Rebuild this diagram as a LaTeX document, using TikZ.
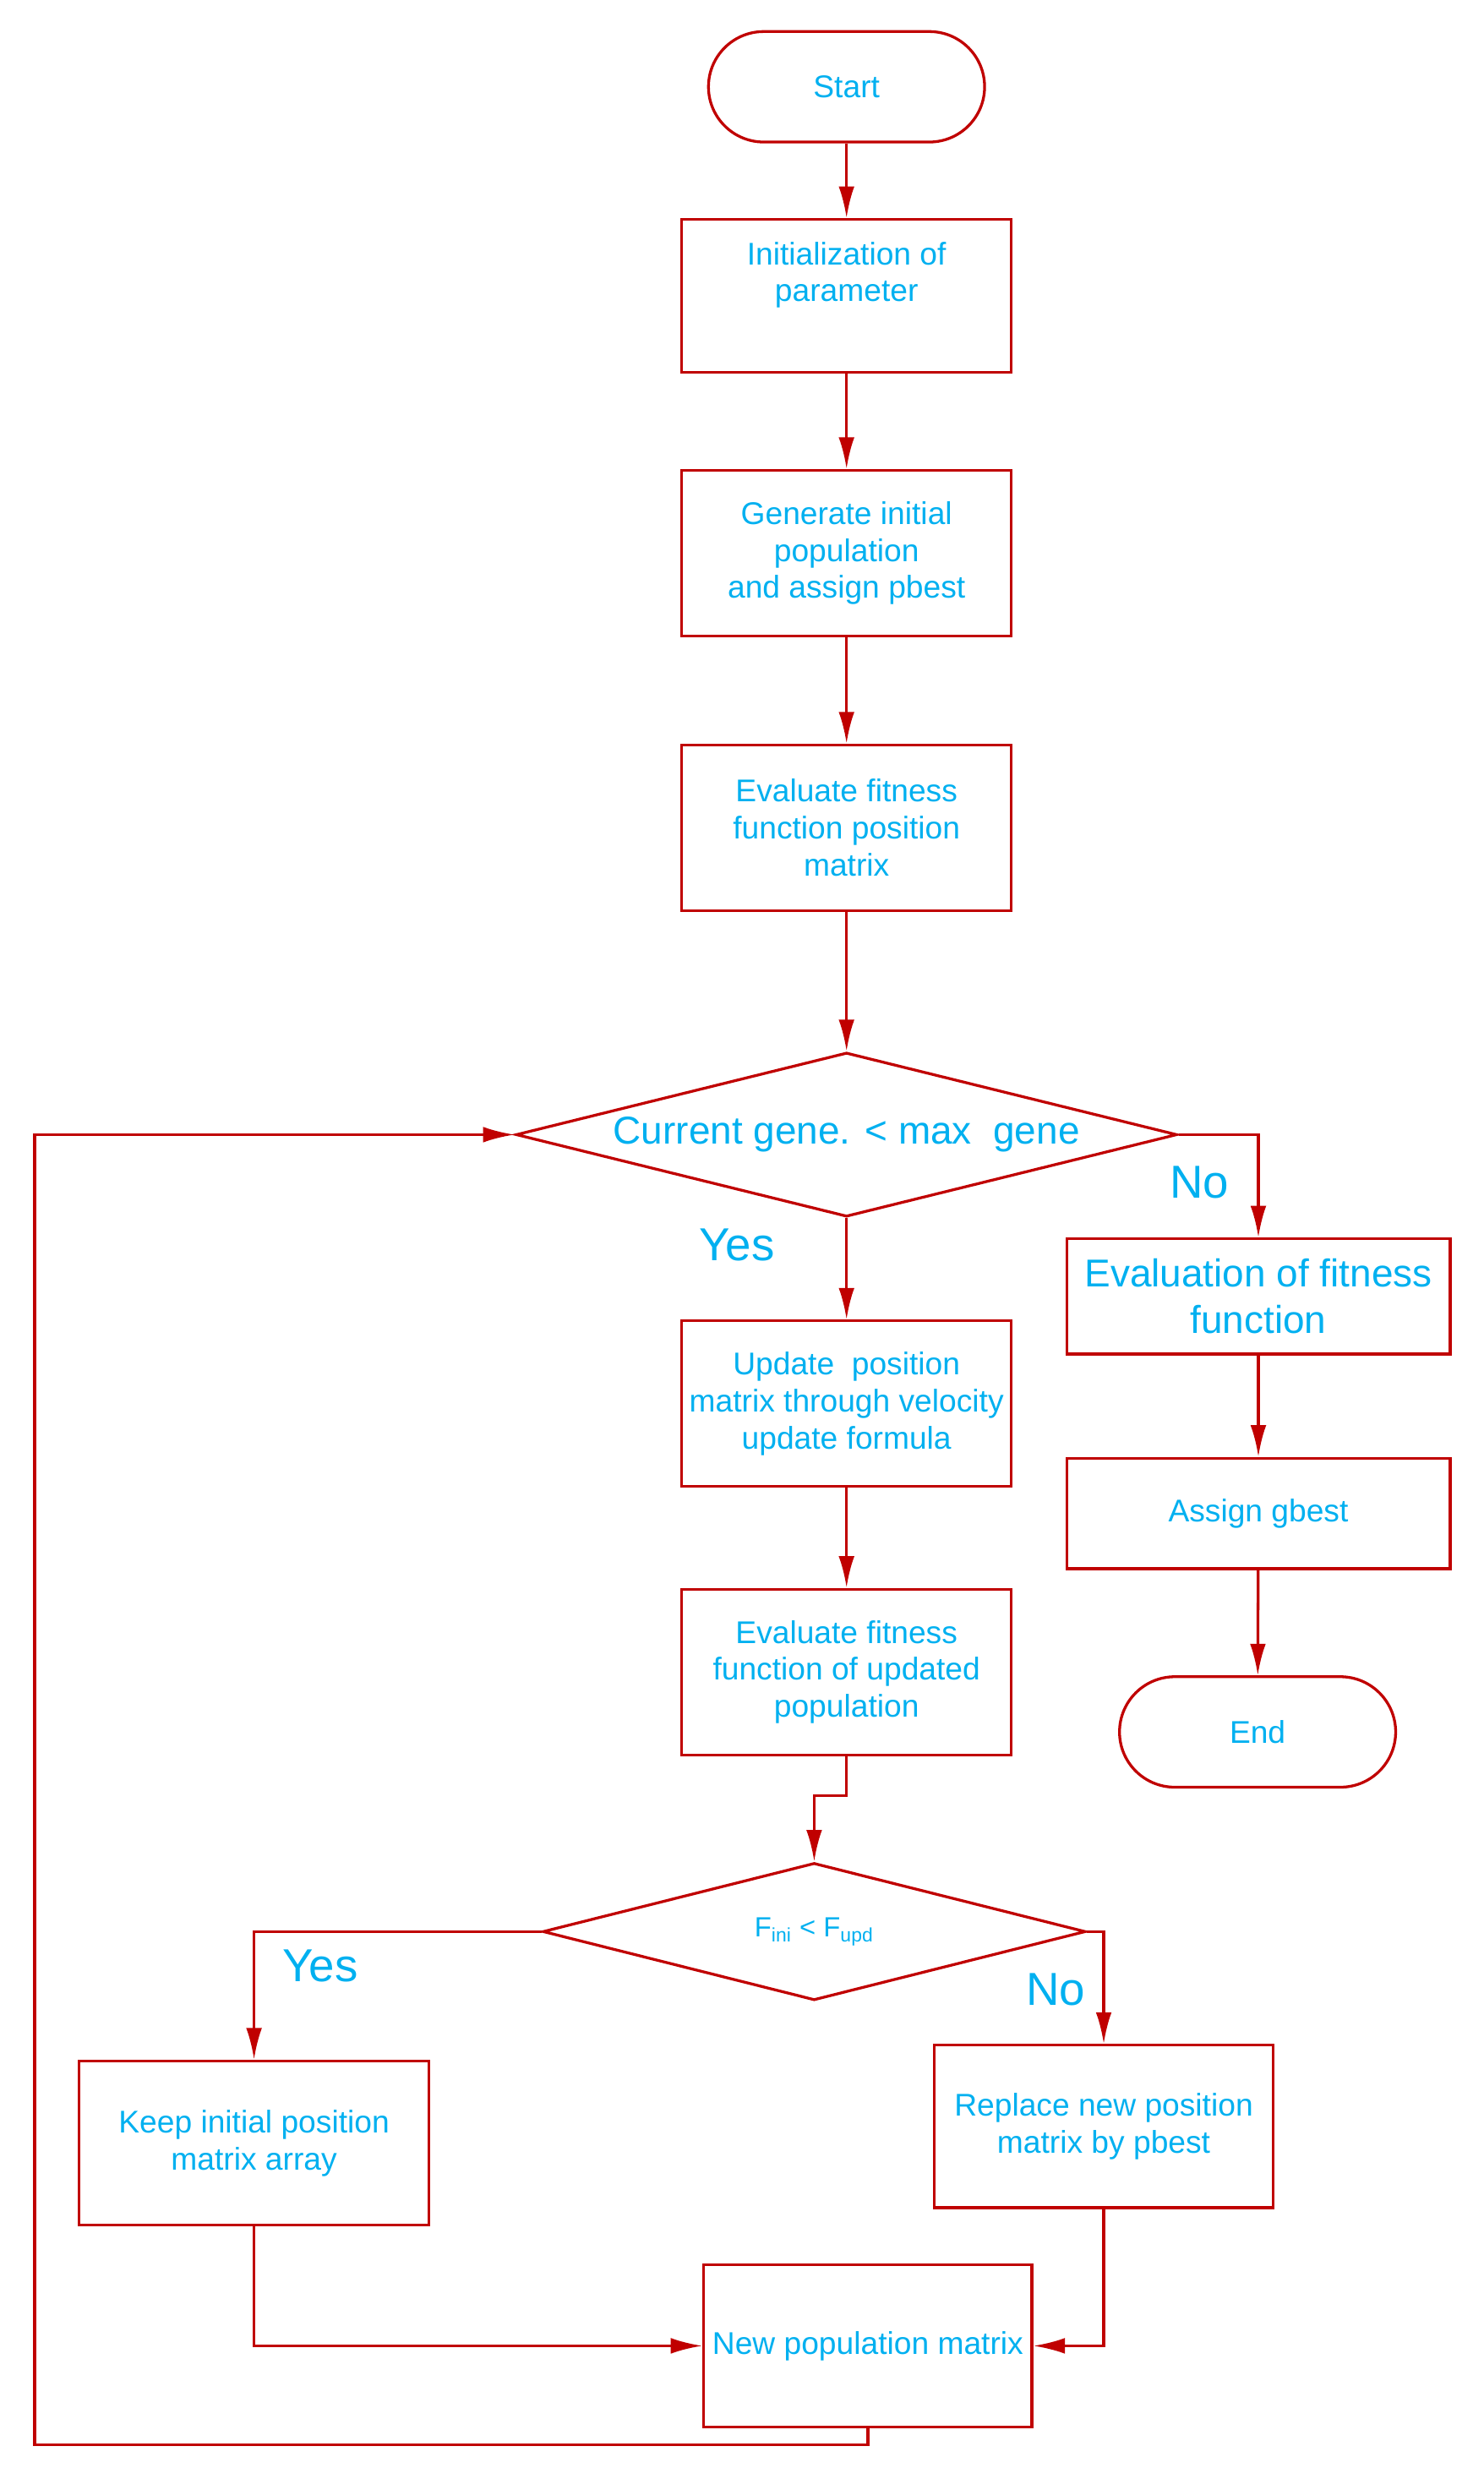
\documentclass[tikz,border=0pt]{standalone}
\usepackage{fontspec}
\setmainfont{Liberation Sans}
\usetikzlibrary{shapes.geometric,arrows.meta}

\definecolor{fred}{HTML}{C00000}
\definecolor{fcyan}{HTML}{00B0F0}

\tikzstyle{block}=[draw=fred, line width=1.5pt, text=fcyan, align=center, inner sep=0pt, font=\fontsize{17}{20}\selectfont]
\tikzstyle{box}=[block, rectangle, minimum width=62.7mm, minimum height=31.5mm]
\tikzstyle{term}=[block, rectangle, rounded corners=10.5mm, minimum width=52.5mm, minimum height=21mm]
\tikzstyle{decide}=[block, diamond]
\tikzstyle{big}=[text=fcyan, align=center, font=\fontsize{21}{25}\selectfont]
\tikzstyle{yn}=[text=fcyan, font=\fontsize{25}{30}\selectfont]
\tikzstyle{arr}=[draw=fred, line width=1.5pt, -{Latex[length=6mm,width=3mm]}]

\begin{document}
\begin{tikzpicture}[x=0.3mm, y=-0.3mm]
    \useasboundingbox (0,0) rectangle (940,1570.9);

    % main column
    \node[term] (start) at (536.5, 55) {Start};
    \node[box, minimum height=29.1mm] (init) at (536.5, 187.5) {Initialization of\\parameter\\\strut};
    \node[box] (gen)   at (536.5, 350.5) {Generate initial\\population\\and assign pbest};
    \node[box] (eval)  at (536.5, 524.5) {Evaluate fitness\\function position\\matrix};
    \node[decide, minimum width=125.7mm, minimum height=31.2mm,
          label={[big]center:Current gene. < max\ \ gene}] (cond) at (536.5, 719) {};
    \node[box] (upd)   at (536.5, 889.5) {Update\ \ position\\matrix through velocity\\update formula};
    \node[box] (evalu) at (536.5, 1059.5) {Evaluate fitness\\function of updated\\population};
    \node[decide, minimum width=103.2mm, minimum height=26.1mm,
          label={[text=fcyan, font=\fontsize{15}{18}\selectfont]center:F\textsubscript{ini} < F\textsubscript{upd}}] (cmp) at (516, 1224) {};

    % right column
    \node[box, minimum width=72.9mm, minimum height=21.9mm, font=\fontsize{21}{25}\selectfont] (evfit) at (797.5, 821.5) {Evaluation of fitness\\function};
    \node[box, minimum width=72.9mm, minimum height=21mm] (gbest) at (797.5, 959) {Assign gbest};
    \node[term] (stop) at (797, 1097.5) {End};

    % bottom
    \node[box, minimum width=66.6mm, minimum height=31.2mm] (keep) at (161, 1358) {Keep initial position\\matrix array};
    \node[box, minimum width=64.5mm, minimum height=30.9mm] (repl) at (699.5, 1347.5) {Replace new position\\matrix by pbest};
    \node[box, minimum width=62.4mm, minimum height=30.9mm] (newpop) at (550, 1486.5) {New population matrix};

    % labels
    \node[yn] (yes1) at (467, 789) {Yes};
    \node[yn] (no1)  at (760, 749) {No};
    \node[yn] (yes2) at (203, 1246) {Yes};
    \node[yn] (no2)  at (669, 1261) {No};

    \coordinate (jog) at (536.5, 1138);
    \coordinate (loop) at (22, 1549);

    % connectors
    \draw[arr] (start) -- (init);
    \draw[arr] (init) -- (gen);
    \draw[arr] (gen) -- (eval);
    \draw[arr] (eval) -- (cond);
    \draw[arr] (cond) -- (upd);
    \draw[arr] (upd) -- (evalu);
    \draw[arr] (evalu.south) -- (jog) -| (cmp.north);
    \draw[arr] (cond.east) -| (evfit.north);
    \draw[arr] (evfit) -- (gbest);
    \draw[arr] (gbest) -- (stop);
    \draw[arr] (cmp.west) -| (keep.north);
    \draw[arr] (cmp.east) -| (repl.north);
    \draw[arr] (keep.south) |- (newpop.west);
    \draw[arr] (repl.south) |- (newpop.east);
    \draw[arr] (newpop.south) |- (loop) |- (cond.west);
\end{tikzpicture}
\end{document}
